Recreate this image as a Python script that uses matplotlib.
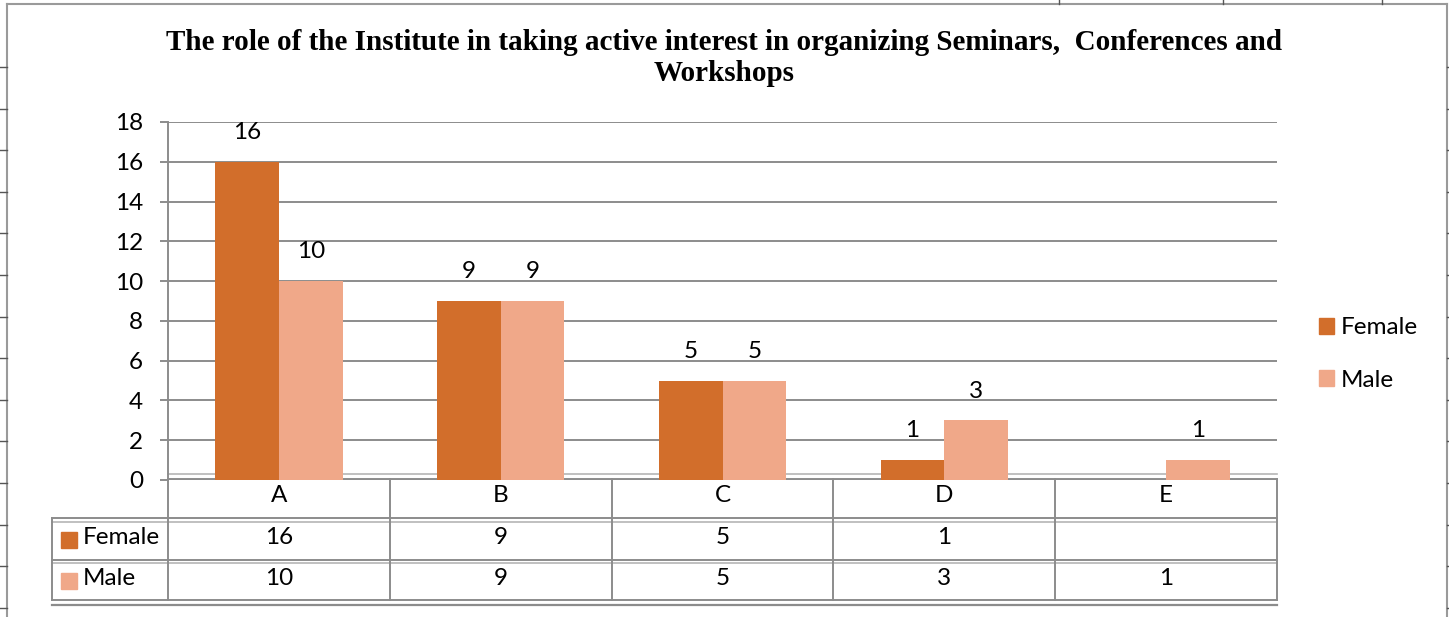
import numpy as np
import matplotlib.pyplot as plt
from matplotlib.lines import Line2D
from matplotlib.patches import Patch

categories = ['A', 'B', 'C', 'D', 'E']
female = [16, 9, 5, 1, None]
male = [10, 9, 5, 3, 1]
series = ['Female', 'Male']
colors = ['#D26E2B', '#F0A889']
title = ('The role of the Institute in taking active interest in organizing Seminars,  Conferences and\n'
         'Workshops')

W, H = 1449, 617
fig = plt.figure(figsize=(W / 100, H / 100), dpi=100)
grid_c = '#8c8c8c'
font = 'Lato'
fs = 17.5

def fx(px):
    return px / W

def fy(py):
    return 1 - py / H

# chart outer frame and a few sheet cell marks behind it
fig.add_artist(Line2D([fx(7), fx(7)], [0, fy(4)], color='#9a9a9a', lw=1.5))
fig.add_artist(Line2D([fx(7), fx(1447)], [fy(4), fy(4)], color='#9a9a9a', lw=1.5))
fig.add_artist(Line2D([fx(1447), fx(1447)], [0, fy(4)], color='#9a9a9a', lw=1.5))
for py in np.arange(67, 617, 41.6):
    fig.add_artist(Line2D([0, fx(7)], [fy(py), fy(py)], color='#555555', lw=1))
    fig.add_artist(Line2D([fx(1447), 1], [fy(py), fy(py)], color='#555555', lw=1))
for px in [1059, 1223, 1382]:
    fig.add_artist(Line2D([fx(px), fx(px)], [fy(4), 1], color='#555555', lw=1))

# data table under the axis (added first so the bars sit over its top line)
hdr = (168 - 52) / ((1277 - 168) / len(categories))
tax = fig.add_axes([fx(52), fy(600), fx(1277) - fx(52), fy(479) - fy(600)])
tax.set_xlim(-hdr, len(categories))
tax.set_ylim(3, 0)
tax.axis('off')
lk = dict(color=grid_c, lw=1.4, clip_on=False)
tax.plot([0, 5], [0, 0], **lk)
tax.plot([0, 5], [-0.12, -0.12], color='#b5b5b5', lw=1.2, clip_on=False)
for r in [0.97, 2, 3]:
    tax.plot([-hdr, 5], [r, r], **lk)
tax.plot([-hdr, 5], [1.06, 1.06], color='#b5b5b5', lw=1.2, clip_on=False)
tax.plot([-hdr, 5], [2.08, 2.08], color='#b5b5b5', lw=1.2, clip_on=False)
tax.plot([-hdr, 5], [3.13, 3.13], color=grid_c, lw=1.6, clip_on=False)
for c in range(len(categories) + 1):
    tax.plot([c, c], [0, 3], **lk)
tax.plot([-hdr, -hdr], [0.97, 3], **lk)

for i, cat in enumerate(categories):
    tax.text(i + 0.5, 0.42, cat, ha='center', va='center', fontsize=fs, family=font)
for r, (name, vals, col) in enumerate(zip(series, [female, male], colors), start=1):
    tax.plot(-hdr + 0.075, r + 0.52, marker='s', ms=11, color=col, clip_on=False)
    tax.text(-hdr + 0.14, r + 0.46, name, ha='left', va='center', fontsize=fs, family=font)
    for i, v in enumerate(vals):
        if v is not None:
            tax.text(i + 0.5, r + 0.46, str(v), ha='center', va='center', fontsize=fs, family=font)

# main plot
ax = fig.add_axes([fx(168), fy(480), fx(1277) - fx(168), fy(122) - fy(480)])
x = np.arange(len(categories)) + 0.5
bw = 0.287
f_vals = np.array([np.nan if v is None else v for v in female], dtype=float)
m_vals = np.array(male, dtype=float)
for vals, off, col in [(f_vals, -bw / 2, colors[0]), (m_vals, bw / 2, colors[1])]:
    ax.bar(x + off, np.nan_to_num(vals), bw, color=col, zorder=3)
    for xi, v in zip(x + off, vals):
        if not np.isnan(v):
            ax.annotate(f'{int(v)}', (xi, v), xytext=(0, 21), textcoords='offset points',
                        ha='center', va='center', fontsize=fs, family=font)

ax.set_xlim(0, len(categories))
ax.set_ylim(0, 18)
ax.set_yticks(range(0, 19, 2))
ax.set_xticks([])
ax.grid(axis='y', color=grid_c, lw=1.4, zorder=0)
ax.tick_params(axis='y', length=6, width=1.4, color=grid_c, pad=12, labelsize=fs)
for lab in ax.get_yticklabels():
    lab.set_family(font)
for s in ['top', 'right', 'bottom']:
    ax.spines[s].set_visible(False)
ax.spines['left'].set_color(grid_c)
ax.spines['left'].set_linewidth(1.4)
ax.patch.set_alpha(0)

# legend
handles = [Patch(color=c) for c in colors]
fig.legend(handles, series, loc='center left', bbox_to_anchor=(fx(1297), fy(354)),
           frameon=False, handlelength=0.62, handleheight=0.62, handletextpad=0.3,
           labelspacing=1.3, prop={'family': font, 'size': fs})

fig.text(0.5, fy(58), title, ha='center', va='center', fontsize=21, fontweight='bold',
         family='Liberation Serif', linespacing=1.2)

fig.savefig('out.png', dpi=100)
